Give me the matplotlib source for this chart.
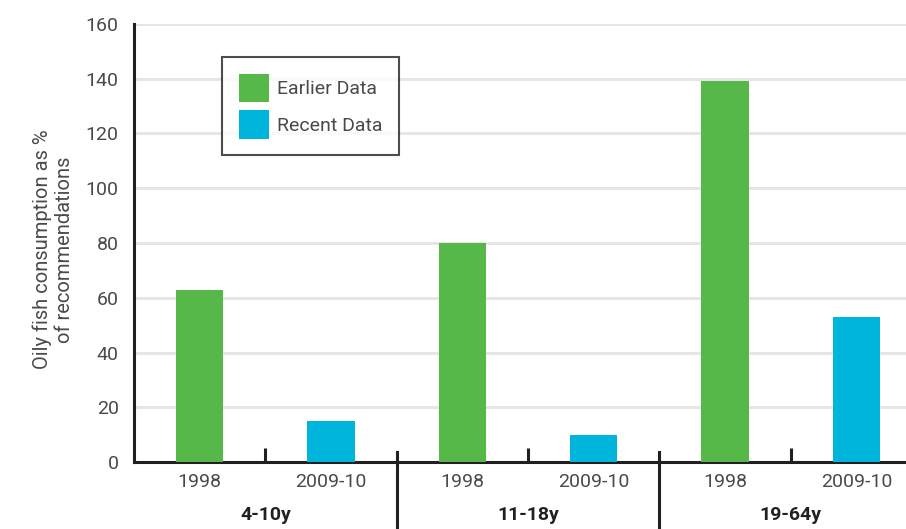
import matplotlib
matplotlib.use("Agg")
import matplotlib.pyplot as plt
from matplotlib.patches import Patch
import matplotlib.transforms as mtransforms

categories = ["1998", "2009-10", "1998", "2009-10", "1998", "2009-10"]
groups = ["4-10y", "11-18y", "19-64y"]
values = [63, 15, 80, 10, 139, 53]
series = ["Earlier Data", "Recent Data", "Earlier Data", "Recent Data", "Earlier Data", "Recent Data"]
yticks = [0, 20, 40, 60, 80, 100, 120, 140, 160]

GREEN = "#57b84a"
BLUE = "#00b5dc"
DARK = "#231f20"
TXT = "#4a4a4a"
FS = 14

plt.rcParams['font.family'] = ['Roboto', 'DejaVu Sans']

W, H = 906, 529
fig = plt.figure(figsize=(W / 100, H / 100), dpi=100)
left_px, right_px, bottom_px, top_px = 134, 922, 462, 24
ax = fig.add_axes([left_px / W, 1 - bottom_px / H, (right_px - left_px) / W, (bottom_px - top_px) / H])

x = list(range(len(values)))
colors = [GREEN if s == "Earlier Data" else BLUE for s in series]
ax.bar(x, values, width=0.36, color=colors, zorder=3)

ax.set_xlim(-0.5, 5.5)
ax.set_ylim(0, 160)
ax.set_yticks(yticks)
ax.set_yticklabels([str(t) for t in yticks], fontsize=FS, color=TXT)
ax.tick_params(axis='y', length=0, pad=11)
ax.yaxis.grid(True, color="#e6e6e6", linewidth=2.2, zorder=0)
ax.set_axisbelow(True)

ax.set_xticks(x)
ax.set_xticklabels(categories, fontsize=FS, color=TXT)
ax.tick_params(axis='x', which='major', length=0, pad=8)
ax.set_xticks([0.5, 2.5, 4.5], minor=True)
ax.tick_params(axis='x', which='minor', direction='in', length=10, width=2.2, color=DARK)

for s in ['top', 'right']:
    ax.spines[s].set_visible(False)
for s in ['left', 'bottom']:
    ax.spines[s].set_color(DARK)
    ax.spines[s].set_linewidth(2.2)

trans = mtransforms.blended_transform_factory(ax.transData, ax.transAxes)
for sep in [1.5, 3.5]:
    ax.plot([sep, sep], [10 / 438, -(529 - 462) / 438 - 0.01], transform=trans,
            color=DARK, linewidth=2.2, clip_on=False, zorder=5)

for i, g in enumerate(groups):
    ax.text(2 * i + 0.5, -(515 - 462) / 438, g, transform=trans, ha='center', va='center',
            fontsize=FS, fontweight='bold', color=DARK)

ax.set_ylabel("Oily fish consumption as %\nof recommendations", fontsize=FS + 0.5,
              color=TXT, linespacing=1.2)
ax.yaxis.set_label_coords(-(134 - 74) / (right_px - left_px), 0.485)

handles = [Patch(facecolor=GREEN, label="Earlier Data"), Patch(facecolor=BLUE, label="Recent Data")]
leg = ax.legend(handles=handles, loc='upper left',
                bbox_to_anchor=((222 - left_px) / (right_px - left_px), (bottom_px - 57) / 438),
                fontsize=FS, frameon=True, fancybox=False, handlelength=1.55, handleheight=1.85,
                handletextpad=0.45, labelspacing=0.45, borderpad=0.85, borderaxespad=0)
leg.get_frame().set_edgecolor(DARK)
leg.get_frame().set_linewidth(1.5)
for t in leg.get_texts():
    t.set_color(TXT)

fig.savefig("out.png", dpi=100)
